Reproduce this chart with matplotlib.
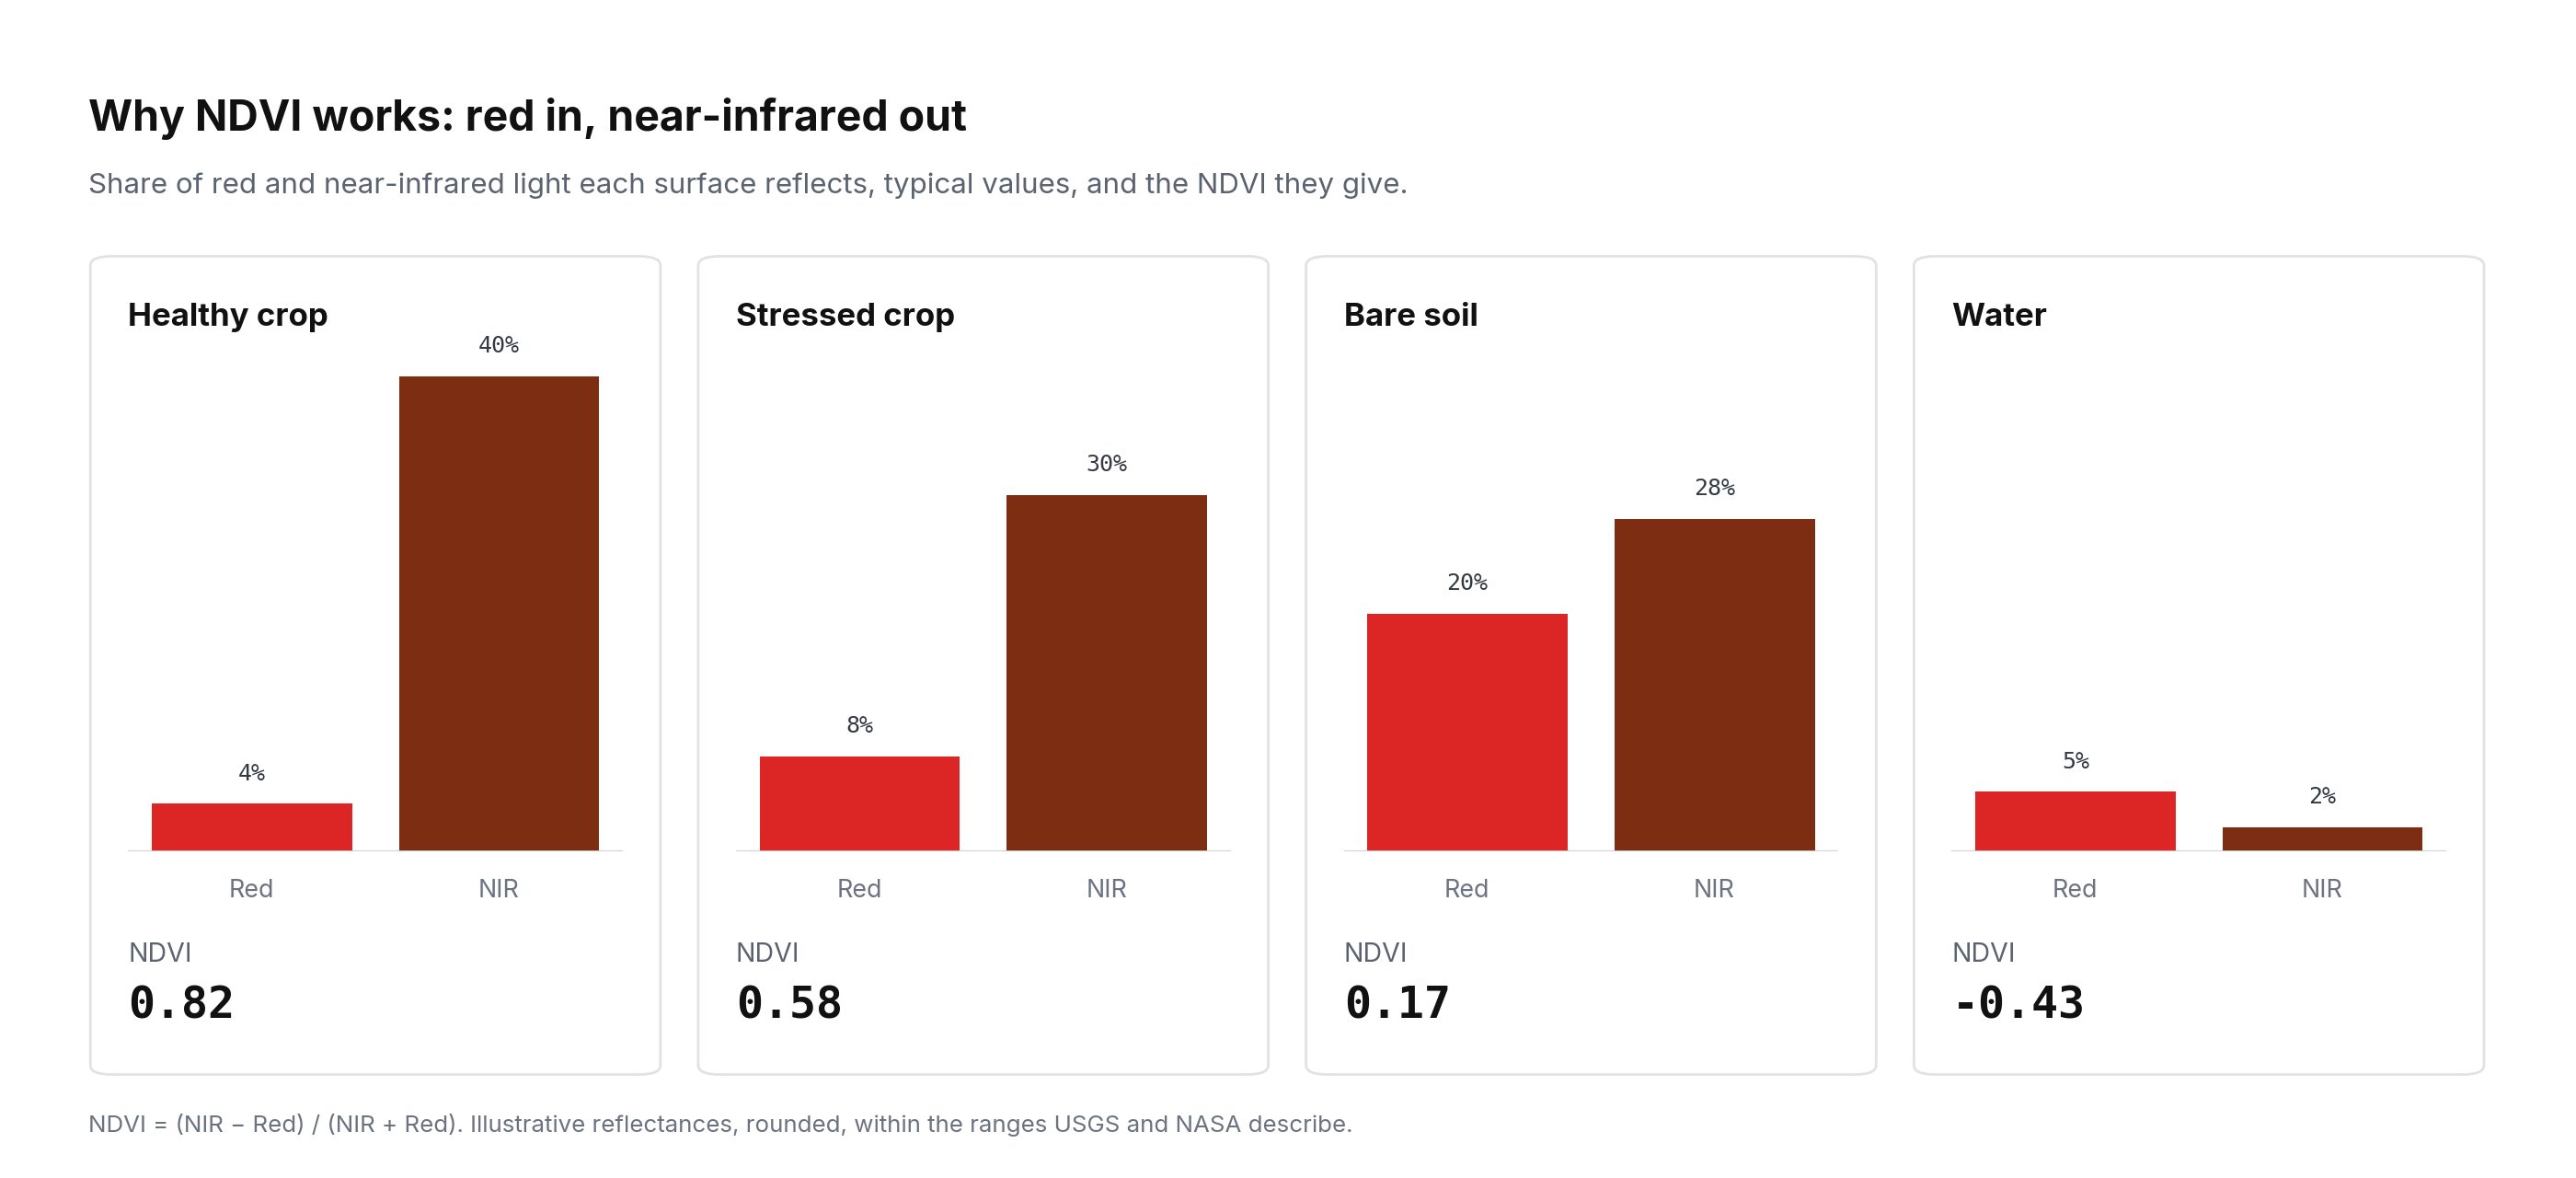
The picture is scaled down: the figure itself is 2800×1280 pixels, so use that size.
import matplotlib
matplotlib.use("Agg")
import matplotlib.pyplot as plt
from matplotlib.patches import FancyBboxPatch

surfaces = ["Healthy crop", "Stressed crop", "Bare soil", "Water"]
red_vals = [4, 8, 20, 5]
nir_vals = [40, 30, 28, 2]
ndvi_vals = ["0.82", "0.58", "0.17", "-0.43"]
bands = ["Red", "NIR"]

W, H = 1568.0, 717.0
fig = plt.figure(figsize=(28, 12.8), dpi=100)
fig.patch.set_facecolor("white")
S = 2800 / W
def fx(x): return x / W
def fy(y): return 1 - y / H
def fs(px): return px * S * 72 / 100

fam = ["Inter", "DejaVu Sans"]
mono = ["DejaVu Sans Mono"]
fig.text(fx(54), fy(72), "Why NDVI works: red in, near-infrared out", fontsize=fs(26),
         fontweight="bold", family=fam, va="center", color="#111111")
fig.text(fx(54), fy(113), "Share of red and near-infrared light each surface reflects, typical values, and the NDVI they give.",
         fontsize=fs(17.5), family=fam, va="center", color="#5b6270")
fig.text(fx(54), fy(685), "NDVI = (NIR − Red) / (NIR + Red). Illustrative reflectances, rounded, within the ranges USGS and NASA describe.",
         fontsize=fs(14.5), family=fam, va="center", color="#6b7280")

card_x = [55, 425, 795, 1165]
for i, name in enumerate(surfaces):
    cx = card_x[i]
    card = FancyBboxPatch((fx(cx), fy(654)), fx(347), (654 - 156) / H,
                          boxstyle="round,pad=0,rounding_size=0.008",
                          transform=fig.transFigure, facecolor="white",
                          edgecolor="#e2e2e2", linewidth=2, mutation_aspect=W / H * 1280 / 2800,
                          zorder=-5)
    fig.add_artist(card)
    fig.text(fx(cx + 23), fy(193), name, fontsize=fs(19.5), fontweight="bold", family=fam,
             va="center", color="#111111")
    ax = fig.add_axes([fx(cx + 23), fy(518), fx(301), (518 - 229) / H], zorder=2)
    ax.set_xlim(-0.5, 1.5)
    ax.set_ylim(0, 40)
    vals = [red_vals[i], nir_vals[i]]
    ax.bar([0, 1], vals, width=0.81, color=["#dc2626", "#7c2d12"], zorder=2)
    for xv, v in zip([0, 1], vals):
        ax.text(xv, v + 1.6, f"{v}%", ha="center", va="bottom", fontsize=fs(14),
                family=mono, color="#333a44", clip_on=False)
    ax.axis("off")
    ax.axhline(0, color="#cccccc", linewidth=2, zorder=3)
    ax.patch.set_visible(False)
    for xv, b in zip([0, 1], bands):
        fig.text(fx(cx + 23 + 75 + xv * 150.5), fy(542), b, ha="center", va="center",
                 fontsize=fs(15), family=fam, color="#6b7280")
    fig.text(fx(cx + 23), fy(581), "NDVI", fontsize=fs(16), family=fam, va="center", color="#5b6270")
    fig.text(fx(cx + 23), fy(612), ndvi_vals[i], fontsize=fs(27), fontweight="bold",
             family=mono, va="center", color="#111111")

fig.savefig("out.png", dpi=100, facecolor="white")
